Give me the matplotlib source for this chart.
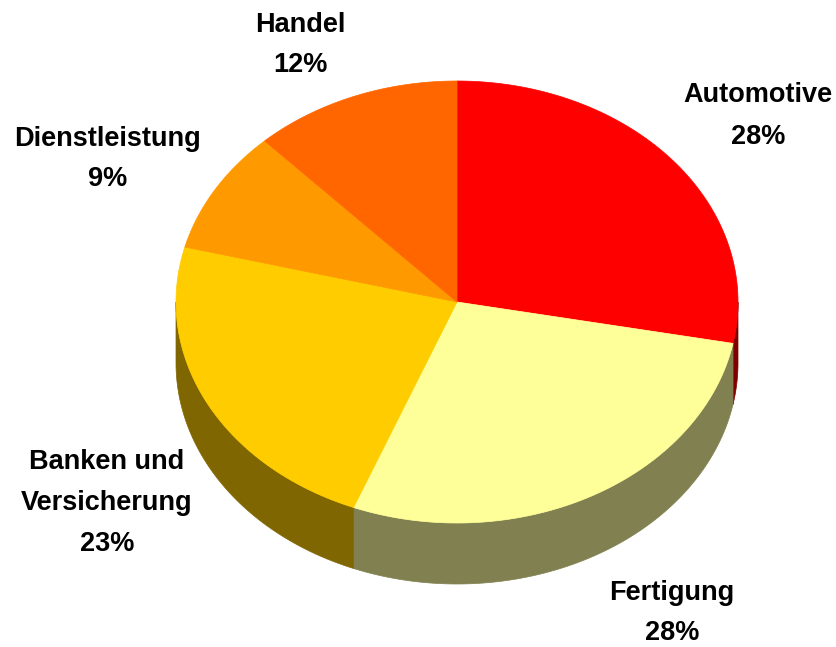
import numpy as np
import matplotlib
matplotlib.use("Agg")
import matplotlib.pyplot as plt

categories = ["Automotive", "Fertigung", "Banken und\nVersicherung", "Dienstleistung", "Handel"]
shares = [28, 28, 23, 9, 12]
top_colors = ["#FF0000", "#FFFF99", "#FFCC00", "#FF9900", "#FF6600"]
side_colors = ["#800000", "#808050", "#806600", "#804C00", "#803300"]

label_pos = [(758, 116), (672, 613), (107, 503), (108, 159), (300, 45)]

W, H = 837, 647
fig = plt.figure(figsize=(W / 100, H / 100), dpi=100)
ax = fig.add_axes([0, 0, 1, 1])
ax.set_xlim(0, W)
ax.set_ylim(H, 0)
ax.axis("off")

cx, cy, rx, ry, depth = 457, 302, 281, 221, 61

def pt(t, dy=0.0):
    t = np.radians(t)
    return cx + rx * np.sin(t), cy - ry * np.cos(t) + dy

fr = np.array(shares, dtype=float) / sum(shares)
bounds = np.concatenate([[0], np.cumsum(fr)]) * 360.0

# side walls (front half: t in [90, 270])
for i in range(len(shares)):
    a, b = max(bounds[i], 90), min(bounds[i + 1], 270)
    if b <= a:
        continue
    t = np.linspace(a, b, 200)
    xt, yt = pt(t)
    xb, yb = pt(t, depth)
    xs = np.concatenate([xt, xb[::-1]])
    ys = np.concatenate([yt, yb[::-1]])
    ax.fill(xs, ys, color=side_colors[i], lw=0.5, ec=side_colors[i])

# top faces
for i in range(len(shares)):
    t = np.linspace(bounds[i], bounds[i + 1], 300)
    x, y = pt(t)
    xs = np.concatenate([[cx], x])
    ys = np.concatenate([[cy], y])
    ax.fill(xs, ys, color=top_colors[i], lw=0.5, ec=top_colors[i])

for i, (lx, ly) in enumerate(label_pos):
    ax.text(lx, ly, f"{categories[i]}\n{shares[i]}%", ha="center", va="center",
            fontsize=19.5, fontweight="bold", family="Liberation Sans",
            linespacing=1.75)

fig.savefig("out.png", dpi=100)
